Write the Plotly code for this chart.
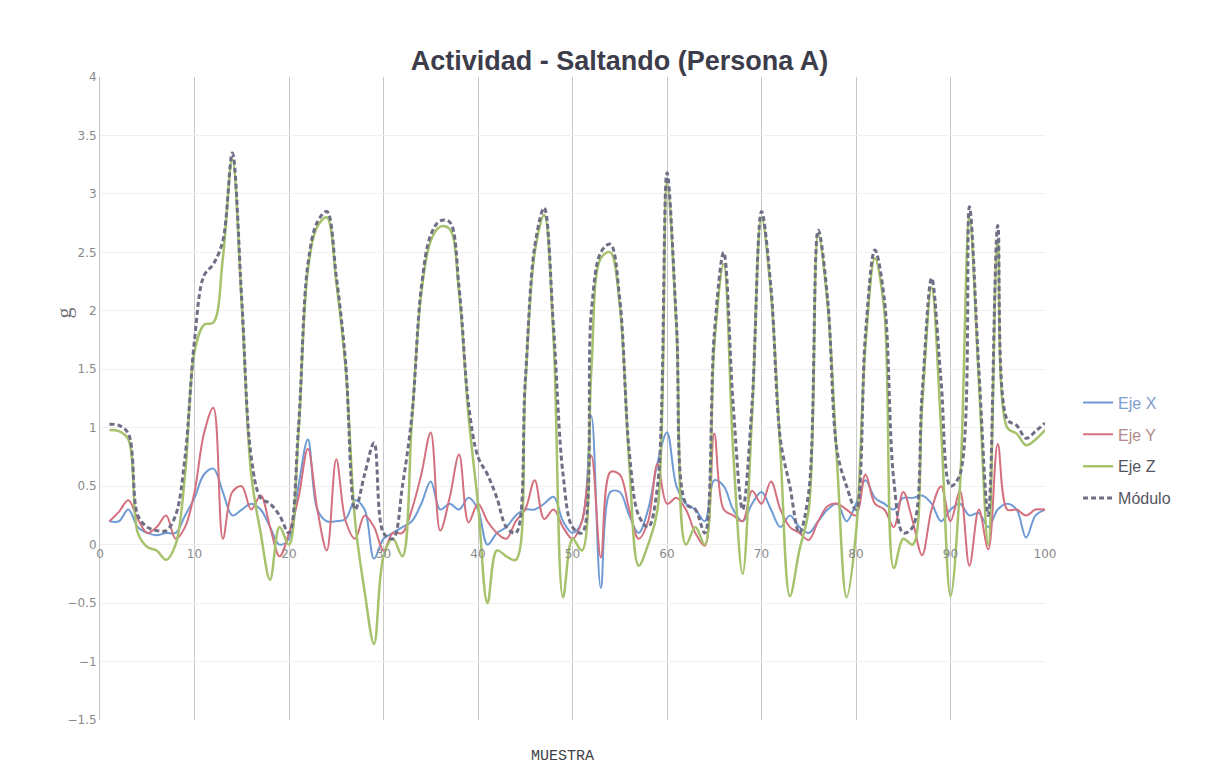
import plotly.graph_objects as go

muestra = list(range(1, 101))

eje_x = [0.20, 0.20, 0.30, 0.15, 0.10, 0.08, 0.10, 0.10, 0.25, 0.40,
         0.60, 0.65, 0.45, 0.25, 0.30, 0.35, 0.30, 0.15, 0.00, 0.05,
         0.50, 0.90, 0.30, 0.20, 0.20, 0.22, 0.38, 0.30, -0.12, 0.05,
         0.10, 0.15, 0.20, 0.35, 0.54, 0.30, 0.35, 0.30, 0.40, 0.30,
         0.00, 0.10, 0.15, 0.25, 0.30, 0.30, 0.35, 0.41, 0.20, 0.10,
         0.20, 1.10, -0.37, 0.45, 0.45, 0.25, 0.10, 0.30, 0.70, 0.96,
         0.50, 0.35, 0.30, 0.20, 0.55, 0.50, 0.30, 0.20, 0.35, 0.45,
         0.30, 0.15, 0.25, 0.15, 0.10, 0.20, 0.30, 0.35, 0.20, 0.35,
         0.55, 0.40, 0.35, 0.30, 0.40, 0.40, 0.42, 0.35, 0.20, 0.30,
         0.35, 0.25, 0.27, 0.15, 0.30, 0.35, 0.30, 0.06, 0.25, 0.30]

eje_y = [0.20, 0.28, 0.38, 0.22, 0.10, 0.15, 0.25, 0.05, 0.15, 0.45,
         0.95, 1.17, 0.05, 0.45, 0.50, 0.30, 0.42, 0.15, -0.10, 0.10,
         0.40, 0.82, 0.30, -0.05, 0.73, 0.20, 0.05, 0.25, 0.15, -0.05,
         0.10, 0.10, 0.30, 0.60, 0.96, 0.12, 0.40, 0.77, 0.19, 0.35,
         0.20, 0.10, 0.05, 0.20, 0.30, 0.55, 0.22, 0.30, 0.15, 0.05,
         0.20, 0.76, -0.11, 0.62, 0.60, 0.30, 0.05, 0.20, 0.69, 0.35,
         0.40, 0.30, 0.10, -0.01, 0.95, 0.30, 0.25, 0.20, 0.46, 0.35,
         0.54, 0.30, 0.15, 0.10, 0.04, 0.20, 0.33, 0.35, 0.30, 0.25,
         0.60, 0.35, 0.30, 0.15, 0.45, 0.20, -0.09, 0.30, 0.50, 0.20,
         0.46, -0.18, 0.30, -0.04, 0.86, 0.30, 0.30, 0.25, 0.30, 0.30]

eje_z = [0.98, 0.97, 0.90, 0.10, -0.02, -0.05, -0.13, 0.00, 0.60, 1.65,
         1.88, 1.90, 2.45, 3.30, 2.05, 0.60, 0.10, -0.30, 0.15, 0.00,
         0.95, 2.35, 2.72, 2.80, 2.25, 1.50, 0.20, -0.40, -0.85, -0.10,
         0.05, -0.10, 1.05, 2.15, 2.60, 2.72, 2.70, 2.15, 1.10, 0.35,
         -0.50, -0.05, -0.10, -0.13, 1.35, 2.50, 2.82, 1.75, -0.45, 0.05,
         -0.05, 1.50, 2.45, 2.50, 2.05, 0.70, -0.18, 0.00, 0.30, 3.10,
         1.85, 0.00, 0.15, 0.00, 1.70, 2.40, 0.80, -0.25, 1.10, 2.80,
         2.15, 0.80, -0.44, -0.05, 0.30, 2.65, 2.05, 0.70, -0.45, 0.10,
         1.70, 2.45, 2.00, -0.20, 0.05, 0.00, 1.20, 2.20, 1.00, -0.44,
         0.50, 2.80, 1.40, 0.00, 2.60, 1.00, 0.95, 0.85, 0.90, 0.98]

modulo = [1.03, 1.02, 0.95, 0.25, 0.15, 0.12, 0.12, 0.25, 0.75, 1.75,
          2.30, 2.40, 2.60, 3.35, 2.10, 0.75, 0.40, 0.35, 0.25, 0.10,
          1.00, 2.40, 2.76, 2.85, 2.30, 1.55, 0.30, 0.60, 0.87, 0.10,
          0.05, 0.50, 1.10, 2.20, 2.65, 2.77, 2.76, 2.20, 1.20, 0.75,
          0.60, 0.40, 0.15, 0.10, 1.40, 2.55, 2.88, 1.85, 0.60, 0.15,
          0.10, 2.00, 2.50, 2.57, 2.10, 0.80, 0.25, 0.15, 0.50, 3.18,
          1.90, 0.35, 0.30, 0.10, 1.80, 2.50, 1.20, 0.30, 1.20, 2.85,
          2.20, 0.90, 0.50, 0.10, 0.45, 2.69, 2.10, 0.80, 0.50, 0.30,
          1.80, 2.52, 2.10, 0.55, 0.10, 0.15, 1.30, 2.28, 1.40, 0.50,
          0.60, 2.89, 1.50, 0.25, 2.73, 1.07, 1.02, 0.91, 0.97, 1.04]

series = [
    ("<span style='color:#7f9ccc'>Eje X</span>", eje_x, "#6f9bd4", "solid", 2),
    ("<span style='color:#b08a88'>Eje Y</span>", eje_y, "#d4707e", "solid", 2),
    ("Eje Z", eje_z, "#a6c26c", "solid", 2.5),
    ("Módulo", modulo, "#6e6e86", "5px,3px", 3),
]

fig = go.Figure()
for i, (name, vals, color, dash, w) in enumerate(series):
    fig.add_trace(go.Scatter(
        x=muestra, y=vals, name=name, mode="lines", legendgroup=f"g{i}",
        line=dict(color=color, width=w, dash=dash, shape="spline", smoothing=1.0),
    ))

fig.update_layout(
    width=1211, height=769,
    margin=dict(l=92, r=174, t=69, b=57, autoexpand=False),
    paper_bgcolor="white", plot_bgcolor="white",
    title=dict(text="<b>Actividad - Saltando (Persona A)</b>",
               x=0.505, xanchor="center", y=0.932, yref="container", yanchor="middle",
               font=dict(family="Liberation Sans, Arial, sans-serif", size=27, color="#3c3c4a")),
    legend=dict(x=1.035, xanchor="left", y=0.52, yanchor="top",
                font=dict(family="Liberation Sans, Arial, sans-serif", size=16, color="#555560"),
                bgcolor="rgba(0,0,0,0)", tracegroupgap=8),
    font=dict(family="DejaVu Sans, sans-serif"),
)

fig.update_xaxes(
    range=[0, 100], tickvals=list(range(0, 101, 10)),
    showgrid=True, gridcolor="#c8c8c8", gridwidth=1,
    anchor="free", position=1.5 / 5.5, showline=False, zeroline=False,
    ticks="", tickfont=dict(size=12, color="#8a8a8a"), automargin=False,
)
fig.update_yaxes(
    range=[-1.5, 4], tickvals=[-1.5, -1, -0.5, 0, 0.5, 1, 1.5, 2, 2.5, 3, 3.5, 4],
    showgrid=True, gridcolor="#f0f0f0", gridwidth=1,
    showline=True, linecolor="#c4c4c4", linewidth=1, zeroline=False,
    ticks="", tickfont=dict(size=12, color="#8a8a8a"), automargin=False,
)

fig.add_annotation(text="MUESTRA", xref="paper", yref="paper", x=0.489, y=-0.056,
                   showarrow=False, yanchor="middle",
                   font=dict(family="Liberation Mono, monospace", size=15, color="#404048"))
fig.add_annotation(text="g", xref="paper", yref="paper", x=-0.053, y=0.633,
                   showarrow=False, textangle=-90,
                   font=dict(family="Liberation Serif, serif", size=22, color="#707078"))

fig.write_html("out.html")
